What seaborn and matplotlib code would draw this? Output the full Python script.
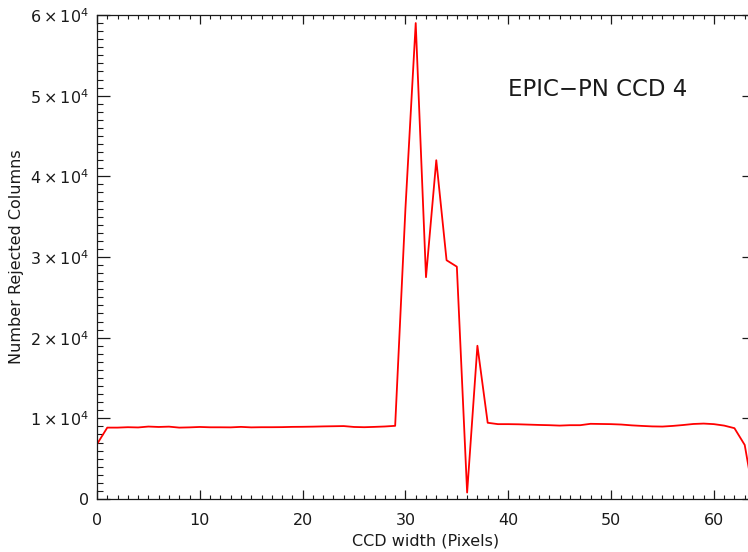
import numpy as np
import pandas as pd
import matplotlib
matplotlib.use("Agg")
import matplotlib.pyplot as plt
from matplotlib.ticker import MultipleLocator, FixedLocator, FixedFormatter
import seaborn as sns

# ---- data ----
pixels = list(range(0, 65))
rejected = [6800, 8850, 8850, 8900, 8870, 8980, 8930, 8970, 8850, 8880,
            8930, 8890, 8890, 8880, 8940, 8880, 8900, 8900, 8910, 8940,
            8950, 8970, 9000, 9020, 9040, 8930, 8900, 8940, 8990, 9070,
            36000, 59000, 27500, 42000, 29600, 28800, 800, 19000, 9450, 9280,
            9280, 9260, 9220, 9180, 9150, 9100, 9150, 9150, 9320, 9300,
            9280, 9230, 9130, 9060, 9000, 8980, 9060, 9170, 9300, 9350,
            9280, 9100, 8780, 6700, -600]
x_ticks = [0, 10, 20, 30, 40, 50, 60]
y_ticks = [0, 10000, 20000, 30000, 40000, 50000, 60000]
y_tick_labels = ["0", r"$1\times10^{4}$", r"$2\times10^{4}$", r"$3\times10^{4}$",
                 r"$4\times10^{4}$", r"$5\times10^{4}$", r"$6\times10^{4}$"]
title_text = "EPIC\u2212PN CCD 4"
x_label = "CCD width (Pixels)"
y_label = "Number Rejected Columns"

df = pd.DataFrame({"pixel": pixels, "rejected": rejected})

sns.set_theme(style="white")
plt.rcParams["font.family"] = ["DejaVu Sans"]
plt.rcParams["mathtext.fontset"] = "dejavusans"

W, H = 748, 552
fig = plt.figure(figsize=(W / 100, H / 100), dpi=100)
left, right, top, bottom = 97, 755, 15, 499
ax = fig.add_axes([left / W, (H - bottom) / H, (right - left) / W, (bottom - top) / H])

sns.lineplot(data=df, x="pixel", y="rejected", ax=ax, color="#ff0000",
             linewidth=1.3, estimator=None, sort=False)

ax.set_xlim(0, 64)
ax.set_ylim(0, 60000)

ink = "#1a1a1a"
for s in ax.spines.values():
    s.set_visible(True)
    s.set_color(ink)
    s.set_linewidth(0.9)

ax.xaxis.set_major_locator(FixedLocator(x_ticks))
ax.xaxis.set_minor_locator(MultipleLocator(1))
ax.yaxis.set_major_locator(FixedLocator(y_ticks))
ax.yaxis.set_major_formatter(FixedFormatter(y_tick_labels))
ax.yaxis.set_minor_locator(MultipleLocator(1000))

ax.tick_params(axis="x", which="major", direction="in", length=6.5, width=0.9,
               top=True, bottom=True, color=ink, labelsize=11.5, pad=10,
               labelcolor=ink)
ax.tick_params(axis="x", which="minor", direction="in", length=3.2, width=0.8,
               top=True, bottom=True, color=ink)
ax.tick_params(axis="y", which="major", direction="in", length=9.5, width=0.9,
               left=True, right=True, color=ink, labelsize=11.5, pad=6,
               labelcolor=ink)
ax.tick_params(axis="y", which="minor", direction="in", length=4.6, width=0.8,
               left=True, right=True, color=ink)

ax.set_xlabel(x_label, fontsize=11.5, color=ink, labelpad=4)
ax.set_ylabel(y_label, fontsize=11.5, color=ink, labelpad=4)

ax.text(508 / W, (H - 89) / H, title_text, transform=fig.transFigure,
        fontsize=16.5, color=ink, ha="left", va="center")

fig.savefig("out.png", dpi=100)
